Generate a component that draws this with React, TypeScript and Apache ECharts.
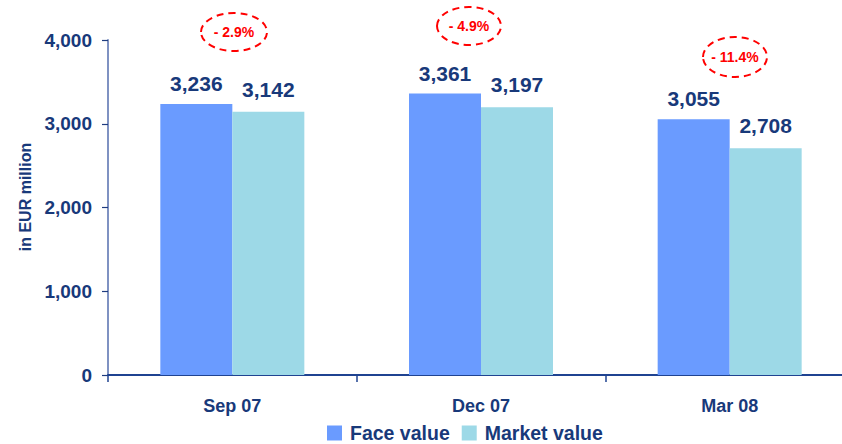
import React, { useEffect, useRef } from "react";
import * as echarts from "echarts";

const categories = ["Sep 07", "Dec 07", "Mar 08"];
const faceValues = [3236, 3361, 3055];
const marketValues = [3142, 3197, 2708];
const changeLabels = ["- 2.9%", "- 4.9%", "- 11.4%"];
const yTicks = [0, 1000, 2000, 3000, 4000];

const NAVY = "#18397a";
const FONT = "Arial, 'Liberation Sans', Helvetica, sans-serif";

export default function App() {
  const ref = useRef<HTMLDivElement>(null);
  useEffect(() => {
    if (!ref.current) return;
    const chart = echarts.init(ref.current, null, { renderer: "svg" });
    const bubbles = [
      { cx: 234, cy: 32, rx: 33, ry: 19 },
      { cx: 469, cy: 26, rx: 32, ry: 19 },
      { cx: 735, cy: 57, rx: 32, ry: 20 },
    ];
    const graphic: any[] = [
      {
        type: "text",
        x: 25,
        y: 197,
        rotation: Math.PI / 2,
        style: {
          text: "in EUR million",
          fill: NAVY,
          font: `bold 16px ${FONT}`,
          align: "center",
          verticalAlign: "middle",
        },
      },
    ];
    bubbles.forEach((b, i) => {
      graphic.push({
        type: "ellipse",
        shape: { cx: b.cx, cy: b.cy, rx: b.rx, ry: b.ry },
        style: { fill: "none", stroke: "#ff0000", lineWidth: 2, lineDash: [7, 5] },
      });
      graphic.push({
        type: "text",
        x: b.cx,
        y: b.cy,
        style: {
          text: changeLabels[i],
          fill: "#ff0000",
          font: `bold 14px ${FONT}`,
          align: "center",
          verticalAlign: "middle",
        },
      });
    });
    chart.setOption({
      animation: false,
      backgroundColor: "#ffffff",
      textStyle: { fontFamily: FONT },
      grid: { left: 108, top: 40, width: 746, height: 335, containLabel: false },
      legend: {
        data: ["Face value", "Market value"],
        left: 327,
        top: 423,
        padding: 0,
        icon: "rect",
        itemWidth: 15,
        itemHeight: 15,
        itemGap: 12,
        textStyle: {
          color: NAVY,
          fontWeight: "bold",
          fontSize: 19.5,
          lineHeight: 18,
          fontFamily: FONT,
          padding: [0, 0, 0, 3],
        },
      },
      xAxis: {
        type: "category",
        data: categories,
        axisLine: { lineStyle: { color: "#1f4391", width: 2 } },
        axisTick: { show: true, length: 7, lineStyle: { color: "#1f4391", width: 1.5 } },
        axisLabel: { color: NAVY, fontWeight: "bold", fontSize: 18, margin: 22, fontFamily: FONT },
      },
      yAxis: {
        type: "value",
        min: 0,
        max: 4000,
        interval: 1000,
        splitLine: { show: false },
        axisLine: { show: true, lineStyle: { color: "#7f92c2", width: 2 } },
        axisTick: { show: true, length: 6, lineStyle: { color: "#1f3d80", width: 1.2 } },
        axisLabel: {
          color: NAVY,
          fontWeight: "bold",
          fontSize: 19,
          margin: 16,
          fontFamily: FONT,
          formatter: (v: number) => (yTicks.includes(v) ? v.toLocaleString("en-US") : ""),
        },
      },
      series: [
        {
          name: "Face value",
          type: "bar",
          data: faceValues,
          barWidth: 72,
          barGap: "0%",
          itemStyle: { color: "#6a9bff" },
          label: {
            show: true,
            position: "top",
            distance: 10,
            color: NAVY,
            fontWeight: "bold",
            fontSize: 21,
            fontFamily: FONT,
            formatter: (p: any) => Number(p.value).toLocaleString("en-US"),
          },
        },
        {
          name: "Market value",
          type: "bar",
          data: marketValues,
          barWidth: 72,
          barGap: "0%",
          itemStyle: { color: "#9dd9e7" },
          label: {
            show: true,
            position: "top",
            distance: 12,
            color: NAVY,
            fontWeight: "bold",
            fontSize: 21,
            fontFamily: FONT,
            formatter: (p: any) => Number(p.value).toLocaleString("en-US"),
          },
        },
      ],
      graphic,
    });
    return () => chart.dispose();
  }, []);
  return (
    <div style={{ position: "absolute", left: 0, top: 0, width: 842, height: 444, overflow: "hidden" }}>
      <div ref={ref} style={{ width: 860, height: 444 }} />
    </div>
  );
}
